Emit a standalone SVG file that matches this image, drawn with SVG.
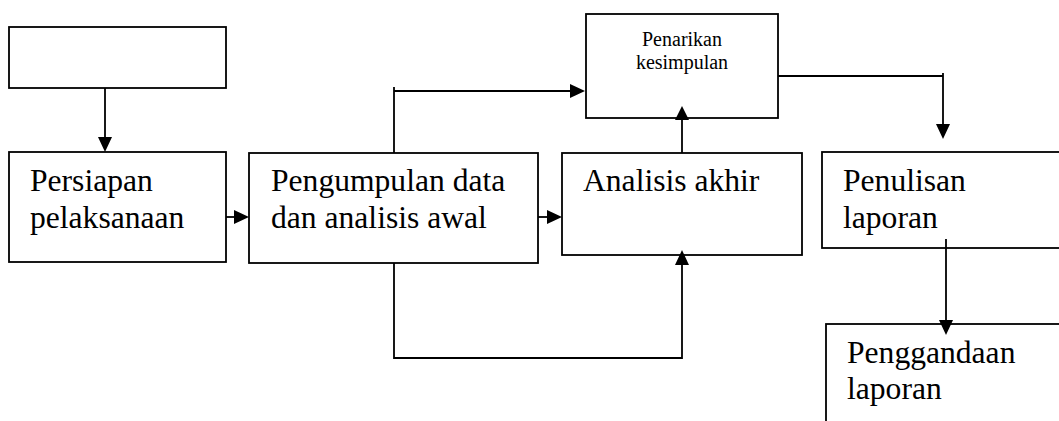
<svg xmlns="http://www.w3.org/2000/svg" width="1059" height="421" viewBox="0 0 1059 421">
<style>
.box{fill:#fff;stroke:#000;stroke-width:1.8}
.t{font-family:'Liberation Serif','Times New Roman',Times,'DejaVu Serif',serif;font-size:31.6px;fill:#000}
.s{font-family:'Liberation Serif','Times New Roman',Times,'DejaVu Serif',serif;font-size:20px;fill:#000}
.c{fill:none;stroke:#000;stroke-width:1.8}
.ah{fill:#000}
</style>
<rect width="1059" height="421" fill="#fff"/>
<g id="n0"><rect class="box" x="9" y="27" width="217" height="61"/></g>
<g id="n1"><rect class="box" x="9" y="152" width="217" height="110"/>
<text class="t" x="30" y="191">Persiapan</text><text class="t" x="30" y="228">pelaksanaan</text></g>
<g id="n2"><rect class="box" x="249" y="153" width="289" height="110"/>
<text class="t" x="271" y="191">Pengumpulan data</text><text class="t" x="271" y="228">dan analisis awal</text></g>
<g id="n3"><rect class="box" x="562" y="153" width="240" height="102"/>
<text class="t" x="583" y="191">Analisis akhir</text></g>
<g id="n4"><rect class="box" x="586" y="14" width="192" height="104"/>
<text class="s" x="682" y="46" text-anchor="middle">Penarikan</text><text class="s" x="682" y="69" text-anchor="middle">kesimpulan</text></g>
<g id="n5"><rect class="box" x="822" y="152" width="250" height="96"/>
<text class="t" x="843" y="191">Penulisan</text><text class="t" x="843" y="228">laporan</text></g>
<g id="n6"><rect class="box" x="826" y="324" width="250" height="120"/>
<text class="t" x="847" y="363">Penggandaan</text><text class="t" x="847" y="399">laporan</text></g>
<g id="connectors">
<path class="c" d="M105 88V140"/><path class="ah" d="M98 137L112 137L105 152Z"/>
<path class="c" d="M226 217H236"/><path class="ah" d="M234 210L249 217L234 224Z"/>
<path class="c" d="M538 217H549"/><path class="ah" d="M547 210L562 217L547 224Z"/>
<path class="c" d="M394 153V87M394 91H572"/><path class="ah" d="M570 84L585 91L570 98Z"/>
<path class="c" d="M682 153V118"/><path class="ah" d="M675 120L682 106L689 120Z"/>
<path class="c" d="M778 76H943M943 73V126"/><path class="ah" d="M936 124L950 124L943 139Z"/>
<path class="c" d="M946 239V322"/><path class="ah" d="M939 320L953 320L946 335Z"/>
<path class="c" d="M394 263V358H682V264"/><path class="ah" d="M675 265L682 250L689 265Z"/>
</g>
</svg>
